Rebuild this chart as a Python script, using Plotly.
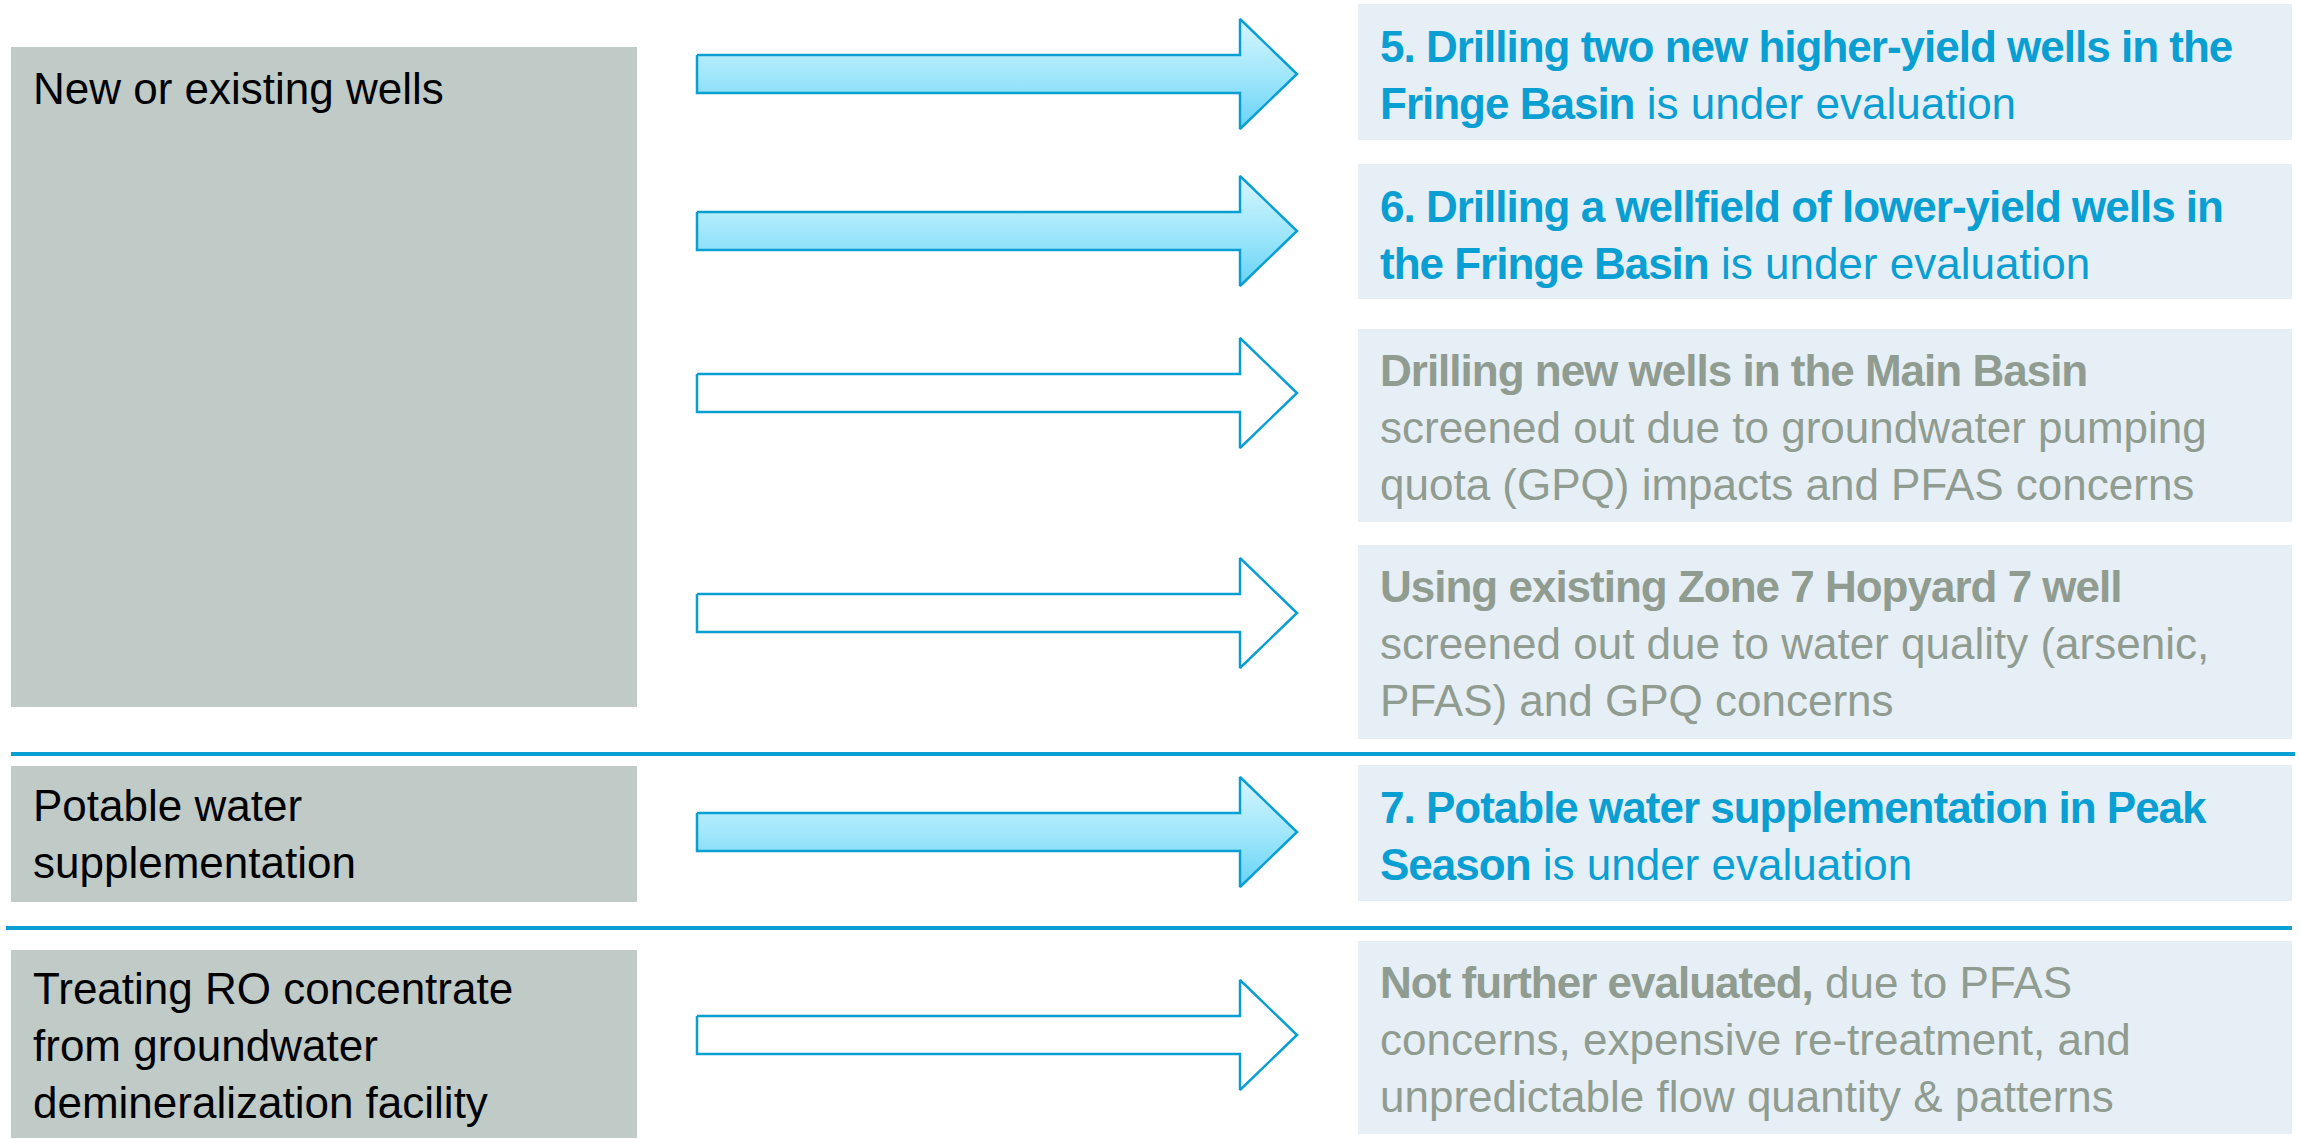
import plotly.graph_objects as go

# ---------------- data ----------------
categories = [
    "New or existing wells",
    "Potable water<br>supplementation",
    "Treating RO concentrate<br>from groundwater<br>demineralization facility",
]
option_category = [0, 0, 0, 0, 1, 2]
option_titles = [
    "5. Drilling two new higher-yield wells in the<br>Fringe Basin",
    "6. Drilling a wellfield of lower-yield wells in<br>the Fringe Basin",
    "Drilling new wells in the Main Basin",
    "Using existing Zone 7 Hopyard 7 well",
    "7. Potable water supplementation in Peak<br>Season",
    "Not further evaluated,",
]
option_notes = [
    " is under evaluation",
    " is under evaluation",
    "<br>screened out due to groundwater pumping<br>quota (GPQ) impacts and PFAS concerns",
    "<br>screened out due to water quality (arsenic,<br>PFAS) and GPQ concerns",
    " is under evaluation",
    " due to PFAS<br>concerns, expensive re-treatment, and<br>unpredictable flow quantity &amp; patterns",
]
option_status = ["evaluated", "evaluated", "screened", "screened", "evaluated", "screened"]

# ---------------- layout geometry (pixels) ----------------
W, H = 2300, 1139
LEFT_X0, LEFT_X1 = 11, 637
cat_box_y = [(47, 707), (766, 902), (950, 1138)]
cat_text_baseline = [103, 820, 1003]
RIGHT_X0, RIGHT_X1 = 1358, 2292
opt_box_y = [(4, 140), (164, 299), (329, 522), (545, 739), (765, 901), (941, 1134)]
opt_text_baseline = [61, 221, 385, 601, 822, 997]
arrow_cy = [74, 231, 393, 613, 832, 1035]
ARROW_X0, ARROW_XH, ARROW_XT = 697, 1240, 1297
SHAFT_H, HEAD_H = 19, 55
separators = [(754, 11, 2295), (928, 6, 2292)]

FONT = "Liberation Sans, Arial, Helvetica, sans-serif"
FS = 44
BLUE = "#0a9fd3"
GRAY_TXT = "#909c90"
CAT_FILL = "#c0cac6"
OPT_FILL = "#e6eef6"

fig = go.Figure()
shapes = []
annotations = []

for (y0, y1) in cat_box_y:
    shapes.append(dict(type="rect", xref="x", yref="y", x0=LEFT_X0, x1=LEFT_X1, y0=y0, y1=y1,
                       fillcolor=CAT_FILL, line=dict(width=0), layer="below"))
for (y0, y1) in opt_box_y:
    shapes.append(dict(type="rect", xref="x", yref="y", x0=RIGHT_X0, x1=RIGHT_X1, y0=y0, y1=y1,
                       fillcolor=OPT_FILL, line=dict(width=0), layer="below"))
for (y, xa, xb) in separators:
    shapes.append(dict(type="line", xref="x", yref="y", x0=xa, x1=xb, y0=y, y1=y,
                       line=dict(color=BLUE, width=4), layer="below"))

# arrows
for cy, status in zip(arrow_cy, option_status):
    xs = [ARROW_X0, ARROW_XH, ARROW_XH, ARROW_XT, ARROW_XH, ARROW_XH, ARROW_X0, ARROW_X0]
    ys = [cy - SHAFT_H, cy - SHAFT_H, cy - HEAD_H, cy, cy + HEAD_H, cy + SHAFT_H, cy + SHAFT_H, cy - SHAFT_H]
    kw = dict(x=xs, y=ys, mode="lines", fill="toself", hoverinfo="skip", showlegend=False,
              line=dict(color=BLUE, width=2.5))
    if status == "evaluated":
        kw["fillgradient"] = dict(type="vertical",
                                  colorscale=[[0, "#d6f6fe"], [0.5, "#a2e7fb"], [1, "#66d3f6"]],
                                  start=cy - HEAD_H, stop=cy + HEAD_H)
    else:
        kw["fillcolor"] = "white"
    fig.add_trace(go.Scatter(**kw))

# category text
for txt, bl in zip(categories, cat_text_baseline):
    annotations.append(dict(x=31, y=bl - 41, xref="x", yref="y", xanchor="left", yanchor="top",
                            text=txt, showarrow=False, align="left",
                            font=dict(family=FONT, size=FS, color="black")))

# option text
for title, note, status, bl in zip(option_titles, option_notes, option_status, opt_text_baseline):
    color = BLUE if status == "evaluated" else GRAY_TXT
    bold = "<br>".join('<b><span style="letter-spacing:-1px">%s</span></b>' % part
                       for part in title.split("<br>"))
    annotations.append(dict(x=1378, y=bl - 41, xref="x", yref="y", xanchor="left", yanchor="top",
                            text=bold + note, showarrow=False, align="left",
                            font=dict(family=FONT, size=FS, color=color)))

fig.update_layout(
    width=W, height=H, margin=dict(l=0, r=0, t=0, b=0),
    paper_bgcolor="white", plot_bgcolor="white",
    xaxis=dict(range=[0, W], visible=False, fixedrange=True),
    yaxis=dict(range=[H, 0], visible=False, fixedrange=True),
    shapes=shapes, annotations=annotations, showlegend=False,
)

fig.write_html("out.html", config={"displayModeBar": False},
               post_script="document.body.style.margin='0';document.body.style.overflow='hidden';")
